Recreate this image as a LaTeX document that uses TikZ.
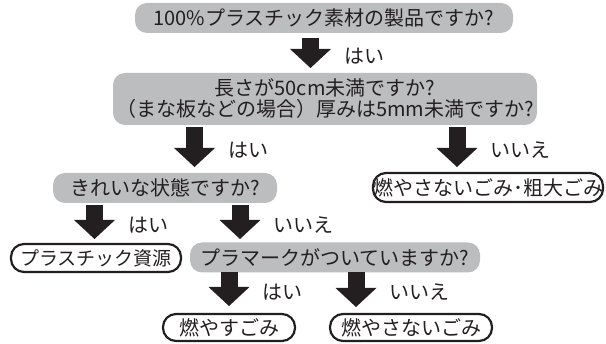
\documentclass[tikz,border=0pt]{standalone}
\usepackage{fontspec}
\setmainfont{Noto Sans CJK JP}
\usetikzlibrary{arrows.meta}
\definecolor{qgray}{RGB}{188,189,191}
\definecolor{ink}{RGB}{35,31,32}

\begin{document}
\begin{tikzpicture}[x=1pt, y=-1pt, ink, font=\fontsize{20}{21}\selectfont,
	quest/.style = {fill=qgray, rounded corners=12pt, inner sep=0pt, align=center},
	result/.style = {draw, line width=2.2pt, rounded corners=13pt, inner sep=0pt},
	bigarrow/.style = {line width=17pt, -{Triangle[width=41pt, length=19pt, line width=0pt]}}]
	\useasboundingbox (0,0) rectangle (606,344);
	
	\node[quest, minimum width=378pt, minimum height=30pt] (q1) at (324,18) {100\%プラスチック素材の製品ですか?};
	\node[quest, minimum width=424pt, minimum height=52pt] (q2) at (325,99) {長さが50cm未満ですか?\\（まな板などの場合）厚みは5mm未満ですか?};
	\node[quest, minimum width=224pt, minimum height=30pt] (q3) at (165,188) {きれいな状態ですか?};
	\node[result, minimum width=230pt, minimum height=29pt] (r1) at (488,187.5) {燃やさないごみ･粗大ごみ};
	\node[result, minimum width=170pt, minimum height=28pt, font=\fontsize{19}{20}\selectfont] (r2) at (96,258) {プラスチック資源};
	\node[quest, minimum width=290pt, minimum height=30pt] (q4) at (335,257.5) {プラマークがついていますか?};
	\node[result, minimum width=132pt, minimum height=27pt] (r3) at (229,327.5) {燃やすごみ};
	\node[result, minimum width=162pt, minimum height=27pt] (r4) at (411,327.5) {燃やさないごみ};
	
	\coordinate (a1) at (310.5,38);  \coordinate (b1) at (310.5,68);
	\coordinate (a2) at (194.5,127); \coordinate (b2) at (194.5,167);
	\coordinate (a3) at (457,127);   \coordinate (b3) at (457,167);
	\coordinate (a4) at (94.5,205);  \coordinate (b4) at (94.5,239);
	\coordinate (a5) at (240,205);   \coordinate (b5) at (240,239);
	\coordinate (a6) at (229,272);   \coordinate (b6) at (229,306);
	\coordinate (a7) at (356,272);   \coordinate (b7) at (356,307);
	
	\draw[bigarrow] (a1) -- (b1) node[midway, right=22pt, yshift=-3pt] (l1) {はい};
	\draw[bigarrow] (a2) -- (b2) node[midway, right=22pt, yshift=-3pt] (l2) {はい};
	\draw[bigarrow] (a3) -- (b3) node[midway, right=22pt, yshift=-3pt] (l3) {いいえ};
	\draw[bigarrow] (a4) -- (b4) node[midway, right=22pt, yshift=-3pt] (l4) {はい};
	\draw[bigarrow] (a5) -- (b5) node[midway, right=22pt, yshift=-3pt] (l5) {いいえ};
	\draw[bigarrow] (a6) -- (b6) node[midway, right=22pt, yshift=-3pt] (l6) {はい};
	\draw[bigarrow] (a7) -- (b7) node[midway, right=22pt, yshift=-3pt] (l7) {いいえ};
\end{tikzpicture}
\end{document}
